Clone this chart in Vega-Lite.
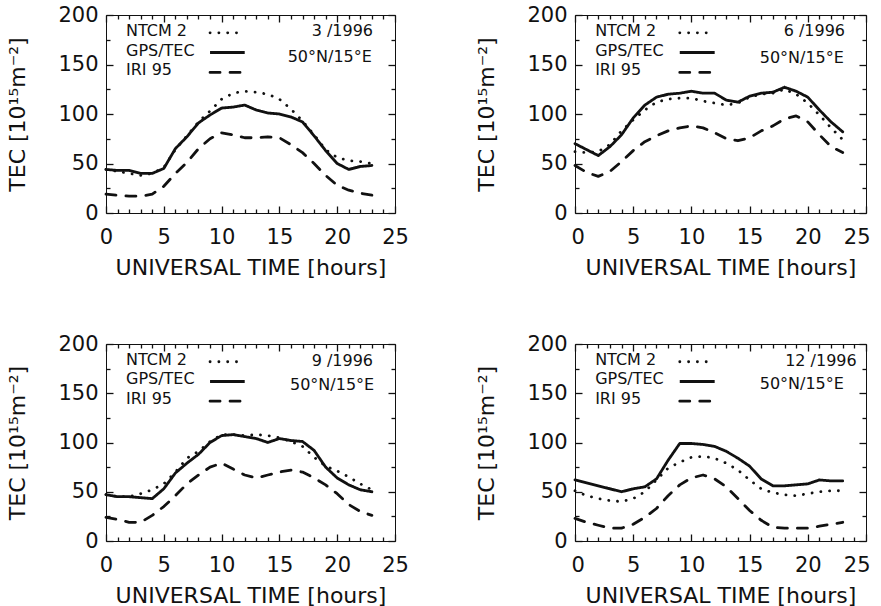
{
  "$schema": "https://vega.github.io/schema/vega-lite/v6.json",
  "padding": {"left": 6, "top": 3, "right": 0, "bottom": 0},
  "background": "white",
  "datasets": {
    "curves": [
      {"panel":"P1","hour":0,"ntcm":44,"gps":44,"iri":19},{"panel":"P1","hour":1,"ntcm":42,"gps":43,"iri":18},{"panel":"P1","hour":2,"ntcm":40,"gps":43,"iri":17},{"panel":"P1","hour":3,"ntcm":38,"gps":40,"iri":17},{"panel":"P1","hour":4,"ntcm":40,"gps":40,"iri":19},{"panel":"P1","hour":5,"ntcm":46,"gps":45,"iri":27},{"panel":"P1","hour":6,"ntcm":64,"gps":65,"iri":40},{"panel":"P1","hour":7,"ntcm":78,"gps":77,"iri":51},{"panel":"P1","hour":8,"ntcm":92,"gps":91,"iri":65},{"panel":"P1","hour":9,"ntcm":103,"gps":99,"iri":75},{"panel":"P1","hour":10,"ntcm":115,"gps":106,"iri":81},{"panel":"P1","hour":11,"ntcm":121,"gps":107,"iri":79},{"panel":"P1","hour":12,"ntcm":123,"gps":109,"iri":76},{"panel":"P1","hour":13,"ntcm":122,"gps":104,"iri":76},{"panel":"P1","hour":14,"ntcm":120,"gps":101,"iri":77},{"panel":"P1","hour":15,"ntcm":115,"gps":100,"iri":76},{"panel":"P1","hour":16,"ntcm":105,"gps":97,"iri":69},{"panel":"P1","hour":17,"ntcm":93,"gps":92,"iri":61},{"panel":"P1","hour":18,"ntcm":79,"gps":78,"iri":50},{"panel":"P1","hour":19,"ntcm":64,"gps":63,"iri":38},{"panel":"P1","hour":20,"ntcm":56,"gps":50,"iri":28},{"panel":"P1","hour":21,"ntcm":53,"gps":44,"iri":23},{"panel":"P1","hour":22,"ntcm":52,"gps":47,"iri":20},{"panel":"P1","hour":23,"ntcm":50,"gps":48,"iri":18},
      {"panel":"P2","hour":0,"ntcm":62,"gps":70,"iri":48},{"panel":"P2","hour":1,"ntcm":61,"gps":64,"iri":41},{"panel":"P2","hour":2,"ntcm":62,"gps":58,"iri":37},{"panel":"P2","hour":3,"ntcm":69,"gps":67,"iri":42},{"panel":"P2","hour":4,"ntcm":83,"gps":79,"iri":52},{"panel":"P2","hour":5,"ntcm":94,"gps":96,"iri":63},{"panel":"P2","hour":6,"ntcm":104,"gps":109,"iri":72},{"panel":"P2","hour":7,"ntcm":112,"gps":117,"iri":78},{"panel":"P2","hour":8,"ntcm":115,"gps":120,"iri":83},{"panel":"P2","hour":9,"ntcm":116,"gps":121,"iri":86},{"panel":"P2","hour":10,"ntcm":116,"gps":123,"iri":88},{"panel":"P2","hour":11,"ntcm":113,"gps":121,"iri":86},{"panel":"P2","hour":12,"ntcm":111,"gps":121,"iri":81},{"panel":"P2","hour":13,"ntcm":109,"gps":114,"iri":75},{"panel":"P2","hour":14,"ntcm":111,"gps":112,"iri":73},{"panel":"P2","hour":15,"ntcm":117,"gps":118,"iri":76},{"panel":"P2","hour":16,"ntcm":120,"gps":121,"iri":83},{"panel":"P2","hour":17,"ntcm":121,"gps":122,"iri":88},{"panel":"P2","hour":18,"ntcm":125,"gps":127,"iri":95},{"panel":"P2","hour":19,"ntcm":120,"gps":123,"iri":98},{"panel":"P2","hour":20,"ntcm":111,"gps":117,"iri":92},{"panel":"P2","hour":21,"ntcm":99,"gps":104,"iri":79},{"panel":"P2","hour":22,"ntcm":86,"gps":92,"iri":67},{"panel":"P2","hour":23,"ntcm":74,"gps":82,"iri":61},
      {"panel":"P3","hour":0,"ntcm":47,"gps":47,"iri":24},{"panel":"P3","hour":1,"ntcm":45,"gps":45,"iri":22},{"panel":"P3","hour":2,"ntcm":45,"gps":45,"iri":19},{"panel":"P3","hour":3,"ntcm":48,"gps":44,"iri":19},{"panel":"P3","hour":4,"ntcm":52,"gps":43,"iri":26},{"panel":"P3","hour":5,"ntcm":58,"gps":53,"iri":35},{"panel":"P3","hour":6,"ntcm":70,"gps":69,"iri":46},{"panel":"P3","hour":7,"ntcm":84,"gps":79,"iri":58},{"panel":"P3","hour":8,"ntcm":91,"gps":88,"iri":67},{"panel":"P3","hour":9,"ntcm":101,"gps":100,"iri":75},{"panel":"P3","hour":10,"ntcm":108,"gps":107,"iri":79},{"panel":"P3","hour":11,"ntcm":108,"gps":108,"iri":73},{"panel":"P3","hour":12,"ntcm":107,"gps":106,"iri":67},{"panel":"P3","hour":13,"ntcm":108,"gps":104,"iri":64},{"panel":"P3","hour":14,"ntcm":107,"gps":100,"iri":67},{"panel":"P3","hour":15,"ntcm":105,"gps":104,"iri":70},{"panel":"P3","hour":16,"ntcm":101,"gps":102,"iri":72},{"panel":"P3","hour":17,"ntcm":96,"gps":101,"iri":70},{"panel":"P3","hour":18,"ntcm":85,"gps":92,"iri":64},{"panel":"P3","hour":19,"ntcm":76,"gps":75,"iri":57},{"panel":"P3","hour":20,"ntcm":71,"gps":64,"iri":48},{"panel":"P3","hour":21,"ntcm":65,"gps":57,"iri":37},{"panel":"P3","hour":22,"ntcm":58,"gps":52,"iri":30},{"panel":"P3","hour":23,"ntcm":52,"gps":50,"iri":26},
      {"panel":"P4","hour":0,"ntcm":51,"gps":62,"iri":23},{"panel":"P4","hour":1,"ntcm":46,"gps":59,"iri":19},{"panel":"P4","hour":2,"ntcm":43,"gps":56,"iri":16},{"panel":"P4","hour":3,"ntcm":41,"gps":53,"iri":13},{"panel":"P4","hour":4,"ntcm":40,"gps":50,"iri":13},{"panel":"P4","hour":5,"ntcm":43,"gps":53,"iri":17},{"panel":"P4","hour":6,"ntcm":50,"gps":55,"iri":24},{"panel":"P4","hour":7,"ntcm":62,"gps":63,"iri":33},{"panel":"P4","hour":8,"ntcm":74,"gps":82,"iri":46},{"panel":"P4","hour":9,"ntcm":80,"gps":99,"iri":57},{"panel":"P4","hour":10,"ntcm":85,"gps":99,"iri":64},{"panel":"P4","hour":11,"ntcm":86,"gps":98,"iri":67},{"panel":"P4","hour":12,"ntcm":84,"gps":96,"iri":63},{"panel":"P4","hour":13,"ntcm":79,"gps":91,"iri":55},{"panel":"P4","hour":14,"ntcm":72,"gps":84,"iri":43},{"panel":"P4","hour":15,"ntcm":62,"gps":76,"iri":31},{"panel":"P4","hour":16,"ntcm":53,"gps":63,"iri":21},{"panel":"P4","hour":17,"ntcm":49,"gps":56,"iri":14},{"panel":"P4","hour":18,"ntcm":47,"gps":56,"iri":13},{"panel":"P4","hour":19,"ntcm":46,"gps":57,"iri":13},{"panel":"P4","hour":20,"ntcm":48,"gps":58,"iri":13},{"panel":"P4","hour":21,"ntcm":50,"gps":62,"iri":15},{"panel":"P4","hour":22,"ntcm":51,"gps":61,"iri":17},{"panel":"P4","hour":23,"ntcm":51,"gps":61,"iri":19}
    ],
    "notes": [
      {"panel":"P1","month":"3 /1996","site":"50°N/15°E"},
      {"panel":"P2","month":"6 /1996","site":"50°N/15°E"},
      {"panel":"P3","month":"9 /1996","site":"50°N/15°E"},
      {"panel":"P4","month":"12 /1996","site":"50°N/15°E"}
    ]
  },
  "vconcat": [
    {
      "hconcat": [
        {
          "width": 289, "height": 198,
          "layer": [
            {"data": {"name": "curves"}, "transform": [{"filter": "datum.panel === 'P1'"}, {"fold": ["ntcm", "gps", "iri"], "as": ["series", "tec"]}],
             "mark": {"type": "line", "color": "#111", "strokeWidth": 2.8, "strokeCap": "round", "strokeJoin": "round"},
             "encoding": {
               "x": {"field": "hour", "type": "quantitative", "scale": {"domain": [0, 25], "nice": false}, "axis": {"orient": "bottom", "title": "UNIVERSAL TIME [hours]", "values": [0,1,2,3,4,5,6,7,8,9,10,11,12,13,14,15,16,17,18,19,20,21,22,23,24,25], "labelExpr": "datum.value % 5 === 0 ? datum.label : ''", "tickSize": {"condition": {"test": "datum.value % 5 === 0", "value": -7}, "value": -4}}},
               "y": {"field": "tec", "type": "quantitative", "scale": {"domain": [0, 200], "nice": false}, "axis": {"orient": "left", "title": "TEC [10¹⁵m⁻²]", "values": [0,25,50,75,100,125,150,175,200], "labelExpr": "datum.value % 50 === 0 ? datum.label : ''", "tickSize": {"condition": {"test": "datum.value % 50 === 0", "value": -7}, "value": -4}}},
               "strokeDash": {"field": "series", "type": "nominal", "scale": {"domain": ["ntcm", "gps", "iri"], "range": [[0.1, 8.7], [1, 0], [10, 10]]}, "legend": null}
             }},
            {"data": {"values": [{}]}, "mark": {"type": "rule", "color": "#111", "strokeWidth": 2.8, "strokeCap": "round", "strokeDash": [0.1, 8.7]},
             "encoding": {
               "x": {"datum": 9, "type": "quantitative", "scale": {"domain": [0, 25], "nice": false}, "axis": {"orient": "top", "title": null, "labels": false, "values": [0,1,2,3,4,5,6,7,8,9,10,11,12,13,14,15,16,17,18,19,20,21,22,23,24,25], "tickSize": {"condition": {"test": "datum.value % 5 === 0", "value": -7}, "value": -4}}},
               "x2": {"datum": 12},
               "y": {"datum": 182, "type": "quantitative", "scale": {"domain": [0, 200], "nice": false}, "axis": {"orient": "right", "title": null, "labels": false, "values": [0,25,50,75,100,125,150,175,200], "tickSize": {"condition": {"test": "datum.value % 50 === 0", "value": -7}, "value": -4}}}
             }},
            {"data": {"values": [{}]}, "mark": {"type": "rule", "color": "#111", "strokeWidth": 3, "strokeCap": "butt"},
             "encoding": {"x": {"datum": 9, "type": "quantitative", "axis": null}, "x2": {"datum": 12}, "y": {"datum": 162, "type": "quantitative", "axis": null}}},
            {"data": {"values": [{}]}, "mark": {"type": "rule", "color": "#111", "strokeWidth": 2.8, "strokeCap": "round", "strokeDash": [10, 10]},
             "encoding": {"x": {"datum": 9, "type": "quantitative", "axis": null}, "x2": {"datum": 12}, "y": {"datum": 142, "type": "quantitative", "axis": null}}},
            {"data": {"values": [{}]}, "mark": {"type": "text", "align": "left", "baseline": "middle"},
             "encoding": {"x": {"datum": 1.73, "type": "quantitative", "axis": null}, "y": {"datum": 184, "type": "quantitative", "axis": null}, "text": {"value": "NTCM 2"}}},
            {"data": {"values": [{}]}, "mark": {"type": "text", "align": "left", "baseline": "middle"},
             "encoding": {"x": {"datum": 1.73, "type": "quantitative", "axis": null}, "y": {"datum": 164, "type": "quantitative", "axis": null}, "text": {"value": "GPS/TEC"}}},
            {"data": {"values": [{}]}, "mark": {"type": "text", "align": "left", "baseline": "middle"},
             "encoding": {"x": {"datum": 1.73, "type": "quantitative", "axis": null}, "y": {"datum": 144, "type": "quantitative", "axis": null}, "text": {"value": "IRI 95"}}},
            {"data": {"name": "notes"}, "transform": [{"filter": "datum.panel === 'P1'"}], "mark": {"type": "text", "align": "right", "baseline": "middle"},
             "encoding": {"x": {"datum": 23.1, "type": "quantitative", "axis": null}, "y": {"datum": 184, "type": "quantitative", "axis": null}, "text": {"field": "month"}}},
            {"data": {"name": "notes"}, "transform": [{"filter": "datum.panel === 'P1'"}], "mark": {"type": "text", "align": "right", "baseline": "middle"},
             "encoding": {"x": {"datum": 23.0, "type": "quantitative", "axis": null}, "y": {"datum": 158, "type": "quantitative", "axis": null}, "text": {"field": "site"}}}
          ],
          "resolve": {"axis": {"x": "independent", "y": "independent"}}
        },
        {
          "width": 291, "height": 198,
          "layer": [
            {"data": {"name": "curves"}, "transform": [{"filter": "datum.panel === 'P2'"}, {"fold": ["ntcm", "gps", "iri"], "as": ["series", "tec"]}],
             "mark": {"type": "line", "color": "#111", "strokeWidth": 2.8, "strokeCap": "round", "strokeJoin": "round"},
             "encoding": {
               "x": {"field": "hour", "type": "quantitative", "scale": {"domain": [0, 25], "nice": false}, "axis": {"orient": "bottom", "title": "UNIVERSAL TIME [hours]", "labelFlush": true, "labelFlushOffset": 4, "values": [0,1,2,3,4,5,6,7,8,9,10,11,12,13,14,15,16,17,18,19,20,21,22,23,24,25], "labelExpr": "datum.value % 5 === 0 ? datum.label : ''", "tickSize": {"condition": {"test": "datum.value % 5 === 0", "value": -7}, "value": -4}}},
               "y": {"field": "tec", "type": "quantitative", "scale": {"domain": [0, 200], "nice": false}, "axis": {"orient": "left", "title": "TEC [10¹⁵m⁻²]", "values": [0,25,50,75,100,125,150,175,200], "labelExpr": "datum.value % 50 === 0 ? datum.label : ''", "tickSize": {"condition": {"test": "datum.value % 50 === 0", "value": -7}, "value": -4}}},
               "strokeDash": {"field": "series", "type": "nominal", "scale": {"domain": ["ntcm", "gps", "iri"], "range": [[0.1, 8.7], [1, 0], [10, 10]]}, "legend": null}
             }},
            {"data": {"values": [{}]}, "mark": {"type": "rule", "color": "#111", "strokeWidth": 2.8, "strokeCap": "round", "strokeDash": [0.1, 8.7]},
             "encoding": {
               "x": {"datum": 9, "type": "quantitative", "scale": {"domain": [0, 25], "nice": false}, "axis": {"orient": "top", "title": null, "labels": false, "values": [0,1,2,3,4,5,6,7,8,9,10,11,12,13,14,15,16,17,18,19,20,21,22,23,24,25], "tickSize": {"condition": {"test": "datum.value % 5 === 0", "value": -7}, "value": -4}}},
               "x2": {"datum": 12},
               "y": {"datum": 182, "type": "quantitative", "scale": {"domain": [0, 200], "nice": false}, "axis": {"orient": "right", "title": null, "labels": false, "values": [0,25,50,75,100,125,150,175,200], "tickSize": {"condition": {"test": "datum.value % 50 === 0", "value": -7}, "value": -4}}}
             }},
            {"data": {"values": [{}]}, "mark": {"type": "rule", "color": "#111", "strokeWidth": 3, "strokeCap": "butt"},
             "encoding": {"x": {"datum": 9, "type": "quantitative", "axis": null}, "x2": {"datum": 12}, "y": {"datum": 162, "type": "quantitative", "axis": null}}},
            {"data": {"values": [{}]}, "mark": {"type": "rule", "color": "#111", "strokeWidth": 2.8, "strokeCap": "round", "strokeDash": [10, 10]},
             "encoding": {"x": {"datum": 9, "type": "quantitative", "axis": null}, "x2": {"datum": 12}, "y": {"datum": 142, "type": "quantitative", "axis": null}}},
            {"data": {"values": [{}]}, "mark": {"type": "text", "align": "left", "baseline": "middle"},
             "encoding": {"x": {"datum": 1.73, "type": "quantitative", "axis": null}, "y": {"datum": 184, "type": "quantitative", "axis": null}, "text": {"value": "NTCM 2"}}},
            {"data": {"values": [{}]}, "mark": {"type": "text", "align": "left", "baseline": "middle"},
             "encoding": {"x": {"datum": 1.73, "type": "quantitative", "axis": null}, "y": {"datum": 164, "type": "quantitative", "axis": null}, "text": {"value": "GPS/TEC"}}},
            {"data": {"values": [{}]}, "mark": {"type": "text", "align": "left", "baseline": "middle"},
             "encoding": {"x": {"datum": 1.73, "type": "quantitative", "axis": null}, "y": {"datum": 144, "type": "quantitative", "axis": null}, "text": {"value": "IRI 95"}}},
            {"data": {"name": "notes"}, "transform": [{"filter": "datum.panel === 'P2'"}], "mark": {"type": "text", "align": "right", "baseline": "middle"},
             "encoding": {"x": {"datum": 23.2, "type": "quantitative", "axis": null}, "y": {"datum": 184, "type": "quantitative", "axis": null}, "text": {"field": "month"}}},
            {"data": {"name": "notes"}, "transform": [{"filter": "datum.panel === 'P2'"}], "mark": {"type": "text", "align": "right", "baseline": "middle"},
             "encoding": {"x": {"datum": 23.1, "type": "quantitative", "axis": null}, "y": {"datum": 157, "type": "quantitative", "axis": null}, "text": {"field": "site"}}}
          ],
          "resolve": {"axis": {"x": "independent", "y": "independent"}}
        }
      ],
      "spacing": 66
    },
    {
      "hconcat": [
        {
          "width": 289, "height": 197,
          "layer": [
            {"data": {"name": "curves"}, "transform": [{"filter": "datum.panel === 'P3'"}, {"fold": ["ntcm", "gps", "iri"], "as": ["series", "tec"]}],
             "mark": {"type": "line", "color": "#111", "strokeWidth": 2.8, "strokeCap": "round", "strokeJoin": "round"},
             "encoding": {
               "x": {"field": "hour", "type": "quantitative", "scale": {"domain": [0, 25], "nice": false}, "axis": {"orient": "bottom", "title": "UNIVERSAL TIME [hours]", "values": [0,1,2,3,4,5,6,7,8,9,10,11,12,13,14,15,16,17,18,19,20,21,22,23,24,25], "labelExpr": "datum.value % 5 === 0 ? datum.label : ''", "tickSize": {"condition": {"test": "datum.value % 5 === 0", "value": -7}, "value": -4}}},
               "y": {"field": "tec", "type": "quantitative", "scale": {"domain": [0, 200], "nice": false}, "axis": {"orient": "left", "title": "TEC [10¹⁵m⁻²]", "values": [0,25,50,75,100,125,150,175,200], "labelExpr": "datum.value % 50 === 0 ? datum.label : ''", "tickSize": {"condition": {"test": "datum.value % 50 === 0", "value": -7}, "value": -4}}},
               "strokeDash": {"field": "series", "type": "nominal", "scale": {"domain": ["ntcm", "gps", "iri"], "range": [[0.1, 8.7], [1, 0], [10, 10]]}, "legend": null}
             }},
            {"data": {"values": [{}]}, "mark": {"type": "rule", "color": "#111", "strokeWidth": 2.8, "strokeCap": "round", "strokeDash": [0.1, 8.7]},
             "encoding": {
               "x": {"datum": 9, "type": "quantitative", "scale": {"domain": [0, 25], "nice": false}, "axis": {"orient": "top", "title": null, "labels": false, "values": [0,1,2,3,4,5,6,7,8,9,10,11,12,13,14,15,16,17,18,19,20,21,22,23,24,25], "tickSize": {"condition": {"test": "datum.value % 5 === 0", "value": -7}, "value": -4}}},
               "x2": {"datum": 12},
               "y": {"datum": 182, "type": "quantitative", "scale": {"domain": [0, 200], "nice": false}, "axis": {"orient": "right", "title": null, "labels": false, "values": [0,25,50,75,100,125,150,175,200], "tickSize": {"condition": {"test": "datum.value % 50 === 0", "value": -7}, "value": -4}}}
             }},
            {"data": {"values": [{}]}, "mark": {"type": "rule", "color": "#111", "strokeWidth": 3, "strokeCap": "butt"},
             "encoding": {"x": {"datum": 9, "type": "quantitative", "axis": null}, "x2": {"datum": 12}, "y": {"datum": 162, "type": "quantitative", "axis": null}}},
            {"data": {"values": [{}]}, "mark": {"type": "rule", "color": "#111", "strokeWidth": 2.8, "strokeCap": "round", "strokeDash": [10, 10]},
             "encoding": {"x": {"datum": 9, "type": "quantitative", "axis": null}, "x2": {"datum": 12}, "y": {"datum": 142, "type": "quantitative", "axis": null}}},
            {"data": {"values": [{}]}, "mark": {"type": "text", "align": "left", "baseline": "middle"},
             "encoding": {"x": {"datum": 1.73, "type": "quantitative", "axis": null}, "y": {"datum": 184, "type": "quantitative", "axis": null}, "text": {"value": "NTCM 2"}}},
            {"data": {"values": [{}]}, "mark": {"type": "text", "align": "left", "baseline": "middle"},
             "encoding": {"x": {"datum": 1.73, "type": "quantitative", "axis": null}, "y": {"datum": 164, "type": "quantitative", "axis": null}, "text": {"value": "GPS/TEC"}}},
            {"data": {"values": [{}]}, "mark": {"type": "text", "align": "left", "baseline": "middle"},
             "encoding": {"x": {"datum": 1.73, "type": "quantitative", "axis": null}, "y": {"datum": 144, "type": "quantitative", "axis": null}, "text": {"value": "IRI 95"}}},
            {"data": {"name": "notes"}, "transform": [{"filter": "datum.panel === 'P3'"}], "mark": {"type": "text", "align": "right", "baseline": "middle"},
             "encoding": {"x": {"datum": 23.1, "type": "quantitative", "axis": null}, "y": {"datum": 183, "type": "quantitative", "axis": null}, "text": {"field": "month"}}},
            {"data": {"name": "notes"}, "transform": [{"filter": "datum.panel === 'P3'"}], "mark": {"type": "text", "align": "right", "baseline": "middle"},
             "encoding": {"x": {"datum": 23.2, "type": "quantitative", "axis": null}, "y": {"datum": 158, "type": "quantitative", "axis": null}, "text": {"field": "site"}}}
          ],
          "resolve": {"axis": {"x": "independent", "y": "independent"}}
        },
        {
          "width": 291, "height": 197,
          "layer": [
            {"data": {"name": "curves"}, "transform": [{"filter": "datum.panel === 'P4'"}, {"fold": ["ntcm", "gps", "iri"], "as": ["series", "tec"]}],
             "mark": {"type": "line", "color": "#111", "strokeWidth": 2.8, "strokeCap": "round", "strokeJoin": "round"},
             "encoding": {
               "x": {"field": "hour", "type": "quantitative", "scale": {"domain": [0, 25], "nice": false}, "axis": {"orient": "bottom", "title": "UNIVERSAL TIME [hours]", "labelFlush": true, "labelFlushOffset": 4, "values": [0,1,2,3,4,5,6,7,8,9,10,11,12,13,14,15,16,17,18,19,20,21,22,23,24,25], "labelExpr": "datum.value % 5 === 0 ? datum.label : ''", "tickSize": {"condition": {"test": "datum.value % 5 === 0", "value": -7}, "value": -4}}},
               "y": {"field": "tec", "type": "quantitative", "scale": {"domain": [0, 200], "nice": false}, "axis": {"orient": "left", "title": "TEC [10¹⁵m⁻²]", "values": [0,25,50,75,100,125,150,175,200], "labelExpr": "datum.value % 50 === 0 ? datum.label : ''", "tickSize": {"condition": {"test": "datum.value % 50 === 0", "value": -7}, "value": -4}}},
               "strokeDash": {"field": "series", "type": "nominal", "scale": {"domain": ["ntcm", "gps", "iri"], "range": [[0.1, 8.7], [1, 0], [10, 10]]}, "legend": null}
             }},
            {"data": {"values": [{}]}, "mark": {"type": "rule", "color": "#111", "strokeWidth": 2.8, "strokeCap": "round", "strokeDash": [0.1, 8.7]},
             "encoding": {
               "x": {"datum": 9, "type": "quantitative", "scale": {"domain": [0, 25], "nice": false}, "axis": {"orient": "top", "title": null, "labels": false, "values": [0,1,2,3,4,5,6,7,8,9,10,11,12,13,14,15,16,17,18,19,20,21,22,23,24,25], "tickSize": {"condition": {"test": "datum.value % 5 === 0", "value": -7}, "value": -4}}},
               "x2": {"datum": 12},
               "y": {"datum": 182, "type": "quantitative", "scale": {"domain": [0, 200], "nice": false}, "axis": {"orient": "right", "title": null, "labels": false, "values": [0,25,50,75,100,125,150,175,200], "tickSize": {"condition": {"test": "datum.value % 50 === 0", "value": -7}, "value": -4}}}
             }},
            {"data": {"values": [{}]}, "mark": {"type": "rule", "color": "#111", "strokeWidth": 3, "strokeCap": "butt"},
             "encoding": {"x": {"datum": 9, "type": "quantitative", "axis": null}, "x2": {"datum": 12}, "y": {"datum": 162, "type": "quantitative", "axis": null}}},
            {"data": {"values": [{}]}, "mark": {"type": "rule", "color": "#111", "strokeWidth": 2.8, "strokeCap": "round", "strokeDash": [10, 10]},
             "encoding": {"x": {"datum": 9, "type": "quantitative", "axis": null}, "x2": {"datum": 12}, "y": {"datum": 142, "type": "quantitative", "axis": null}}},
            {"data": {"values": [{}]}, "mark": {"type": "text", "align": "left", "baseline": "middle"},
             "encoding": {"x": {"datum": 1.73, "type": "quantitative", "axis": null}, "y": {"datum": 184, "type": "quantitative", "axis": null}, "text": {"value": "NTCM 2"}}},
            {"data": {"values": [{}]}, "mark": {"type": "text", "align": "left", "baseline": "middle"},
             "encoding": {"x": {"datum": 1.73, "type": "quantitative", "axis": null}, "y": {"datum": 164, "type": "quantitative", "axis": null}, "text": {"value": "GPS/TEC"}}},
            {"data": {"values": [{}]}, "mark": {"type": "text", "align": "left", "baseline": "middle"},
             "encoding": {"x": {"datum": 1.73, "type": "quantitative", "axis": null}, "y": {"datum": 144, "type": "quantitative", "axis": null}, "text": {"value": "IRI 95"}}},
            {"data": {"name": "notes"}, "transform": [{"filter": "datum.panel === 'P4'"}], "mark": {"type": "text", "align": "right", "baseline": "middle"},
             "encoding": {"x": {"datum": 24.2, "type": "quantitative", "axis": null}, "y": {"datum": 183, "type": "quantitative", "axis": null}, "text": {"field": "month"}}},
            {"data": {"name": "notes"}, "transform": [{"filter": "datum.panel === 'P4'"}], "mark": {"type": "text", "align": "right", "baseline": "middle"},
             "encoding": {"x": {"datum": 23.1, "type": "quantitative", "axis": null}, "y": {"datum": 159, "type": "quantitative", "axis": null}, "text": {"field": "site"}}}
          ],
          "resolve": {"axis": {"x": "independent", "y": "independent"}}
        }
      ],
      "spacing": 66
    }
  ],
  "spacing": 53,
  "config": {
    "view": {"stroke": "#111", "strokeWidth": 1},
    "axis": {"domain": false, "grid": false, "ticks": true, "tickColor": "#111", "tickWidth": 1.3, "tickSize": -6, "labelFont": "DejaVu Sans", "labelFontSize": 21, "labelColor": "#111", "titleFont": "DejaVu Sans", "titleFontSize": 22, "titleFontWeight": "normal", "titleColor": "#111", "labelOverlap": false, "labelFlush": false, "minExtent": 0},
    "axisBottom": {"labelPadding": 20, "titlePadding": 7},
    "axisLeft": {"labelPadding": 15, "titlePadding": 28},
    "text": {"font": "DejaVu Sans", "fontSize": 16, "color": "#111"}
  }
}
